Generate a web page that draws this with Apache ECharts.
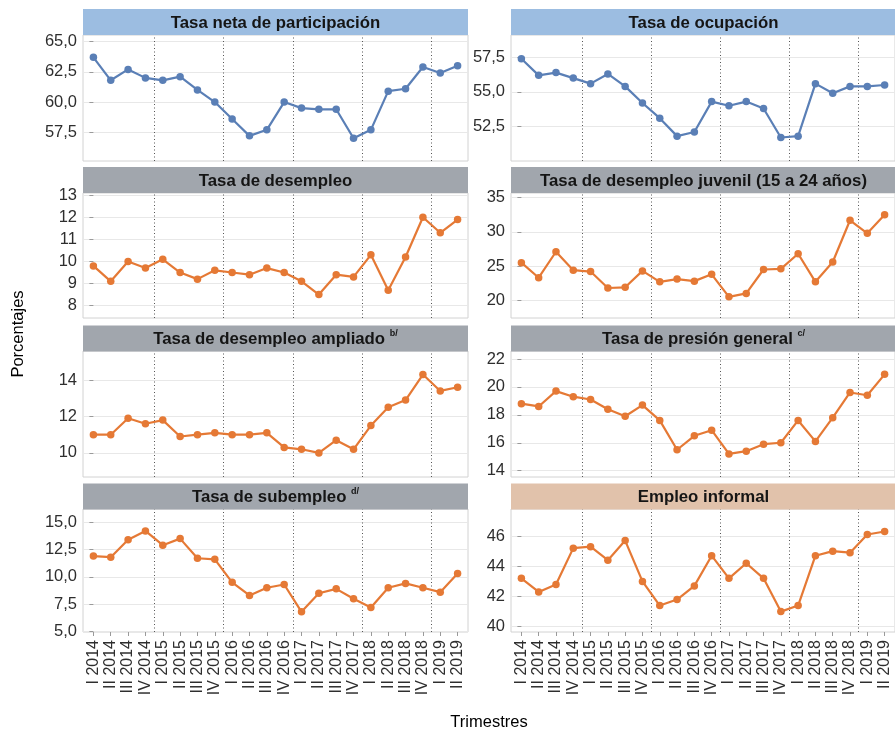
<!DOCTYPE html>
<html><head><meta charset="utf-8">
<script src="https://cdn.jsdelivr.net/npm/echarts@6/dist/echarts.min.js"></script>
<style>html,body{margin:0;padding:0;background:#fff}#c{width:895px;height:730px}</style>
</head><body><div id="c"></div>
<script>
// ---- data ----
const quarters = ['I 2014','II 2014','III 2014','IV 2014','I 2015','II 2015','III 2015','IV 2015',
  'I 2016','II 2016','III 2016','IV 2016','I 2017','II 2017','III 2017','IV 2017',
  'I 2018','II 2018','III 2018','IV 2018','I 2019','II 2019'];
const participacion = [63.7,61.8,62.7,62.0,61.8,62.1,61.0,60.0,58.6,57.2,57.7,60.0,59.5,59.4,59.4,57.0,57.7,60.9,61.1,62.9,62.4,63.0];
const ocupacion = [57.4,56.2,56.4,56.0,55.6,56.3,55.4,54.2,53.1,51.8,52.1,54.3,54.0,54.3,53.8,51.7,51.8,55.6,54.9,55.4,55.4,55.5];
const desempleo = [9.8,9.1,10.0,9.7,10.1,9.5,9.2,9.6,9.5,9.4,9.7,9.5,9.1,8.5,9.4,9.3,10.3,8.7,10.2,12.0,11.3,11.9];
const juvenil = [25.5,23.3,27.1,24.4,24.2,21.8,21.9,24.3,22.7,23.1,22.8,23.8,20.5,21.0,24.5,24.6,26.8,22.7,25.6,31.7,29.8,32.5];
const ampliado = [11.0,11.0,11.9,11.6,11.8,10.9,11.0,11.1,11.0,11.0,11.1,10.3,10.2,10.0,10.7,10.2,11.5,12.5,12.9,14.3,13.4,13.6];
const presion = [18.8,18.6,19.7,19.3,19.1,18.4,17.9,18.7,17.6,15.5,16.5,16.9,15.2,15.4,15.9,16.0,17.6,16.1,17.8,19.6,19.4,20.9];
const subempleo = [11.9,11.8,13.4,14.2,12.9,13.5,11.7,11.6,9.5,8.3,9.0,9.3,6.8,8.5,8.9,8.0,7.2,9.0,9.4,9.0,8.6,10.3];
const informal = [43.2,42.3,42.8,45.2,45.3,44.4,45.7,43.0,41.4,41.8,42.7,44.7,43.2,44.2,43.2,41.0,41.4,44.7,45.0,44.9,46.1,46.3];

const ticksParticipacion = [57.5,60,62.5,65];
const ticksOcupacion = [52.5,55,57.5];
const ticksDesempleo = [8,9,10,11,12,13];
const ticksJuvenil = [20,25,30,35];
const ticksAmpliado = [10,12,14];
const ticksPresion = [14,16,18,20,22];
const ticksSubempleo = [5,7.5,10,12.5,15];
const ticksInformal = [40,42,44,46];

const yearBreaks = [3.5,7.5,11.5,15.5,19.5];

// ---- layout / style ----
const FONT = 'Liberation Sans, Arial, Helvetica, sans-serif';
const BLUE = '#5a7fb6', ORANGE = '#e57935';
const STRIP_BLUE = '#9cbde1', STRIP_GRAY = '#a1a6ad', STRIP_TAN = '#e1c2ab';
const colLeft = [83, 511], colW = 385;
const plotTop = [35, 193, 351, 509], plotH = [126, 125, 126, 123];
const stripTop = [9, 167, 325.5, 483.5], stripH = 26;

const panels = [
  {title:'Tasa neta de participación', sup:'', data:participacion, ticks:ticksParticipacion, min:55.12, max:65.55, dec:1, color:BLUE, strip:STRIP_BLUE, r:0, c:0},
  {title:'Tasa de ocupación', sup:'', data:ocupacion, ticks:ticksOcupacion, min:50.0, max:59.12, dec:1, color:BLUE, strip:STRIP_BLUE, r:0, c:1},
  {title:'Tasa de desempleo', sup:'', data:desempleo, ticks:ticksDesempleo, min:7.44, max:13.1, dec:0, color:ORANGE, strip:STRIP_GRAY, r:1, c:0},
  {title:'Tasa de desempleo juvenil (15 a 24 años)', sup:'', data:juvenil, ticks:ticksJuvenil, min:17.41, max:35.69, dec:0, color:ORANGE, strip:STRIP_GRAY, r:1, c:1},
  {title:'Tasa de desempleo ampliado ', sup:'b/', data:ampliado, ticks:ticksAmpliado, min:8.68, max:15.59, dec:0, color:ORANGE, strip:STRIP_GRAY, r:2, c:0},
  {title:'Tasa de presión general ', sup:'c/', data:presion, ticks:ticksPresion, min:13.55, max:22.57, dec:0, color:ORANGE, strip:STRIP_GRAY, r:2, c:1},
  {title:'Tasa de subempleo ', sup:'d/', data:subempleo, ticks:ticksSubempleo, min:4.95, max:16.21, dec:1, color:ORANGE, strip:STRIP_GRAY, r:3, c:0},
  {title:'Empleo informal', sup:'', data:informal, ticks:ticksInformal, min:39.65, max:47.79, dec:0, color:ORANGE, strip:STRIP_TAN, r:3, c:1}
];

const idx = quarters.map((q,i)=>i);
const grid = [], xAxis = [], yAxis = [], series = [], graphic = [];

panels.forEach((p, i) => {
  const bottom = p.r === 3;
  grid.push({left: colLeft[p.c], top: plotTop[p.r], width: colW, height: plotH[p.r],
    show: true, borderColor: '#d2d2d2', borderWidth: 1, backgroundColor: '#fff', containLabel: false});
  xAxis.push({type: 'value', gridIndex: i, min: -0.6, max: 21.6,
    axisLine: {show: false}, splitLine: {show: false},
    axisTick: {show: bottom, customValues: idx, length: 4, lineStyle: {color: '#9a9a9a'}},
    axisLabel: {show: bottom, customValues: idx, rotate: 90, margin: 8,
      formatter: v => quarters[Math.round(v)] || '', color: '#2e2e2e', fontSize: 16, fontFamily: FONT}});
  yAxis.push({type: 'value', gridIndex: i, min: p.min, max: p.max,
    axisLine: {show: false},
    axisTick: {show: true, customValues: p.ticks, length: 4, lineStyle: {color: '#9a9a9a'}},
    axisLabel: {customValues: p.ticks, margin: 6, color: '#2e2e2e', fontSize: 16.5, fontFamily: FONT,
      formatter: v => p.dec ? v.toFixed(1).replace('.', ',') : String(Math.round(v))},
    splitLine: {show: true, lineStyle: {color: '#e8e8e8', width: 1}}});
  series.push({type: 'line', xAxisIndex: i, yAxisIndex: i,
    data: p.data.map((v, k) => [k, v]),
    symbol: 'circle', symbolSize: 7.5, showSymbol: true,
    lineStyle: {color: p.color, width: 2.2}, itemStyle: {color: p.color},
    emphasis: {disabled: true}, silent: true, z: 3,
    markLine: {silent: true, symbol: 'none', label: {show: false}, z: 1,
      lineStyle: {color: '#555', type: [1, 2.5], width: 1},
      data: yearBreaks.map(x => ({xAxis: x}))}});
  graphic.push({type: 'rect', left: colLeft[p.c], top: stripTop[p.r],
    shape: {width: colW, height: stripH}, style: {fill: p.strip}, z: 10});
  graphic.push({type: 'text', x: colLeft[p.c] + colW / 2, y: stripTop[p.r] + stripH / 2 + 1, z: 11,
    style: {text: p.title + (p.sup ? '{sup|' + p.sup + '}' : ''), align: 'center', verticalAlign: 'middle',
      font: 'bold 16.8px ' + FONT, fill: '#151515',
      rich: {sup: {fontSize: 9, fontWeight: 'bold', fontFamily: FONT, fill: '#151515', verticalAlign: 'top', lineHeight: 20, padding: [0, 0, 6, 0]}}}});
});

graphic.push({type: 'text', x: 18, y: 334, rotation: Math.PI / 2, z: 11,
  style: {text: 'Porcentajes', align: 'center', verticalAlign: 'middle', font: '16.5px ' + FONT, fill: '#000'}});
graphic.push({type: 'text', x: 489, y: 722, z: 11,
  style: {text: 'Trimestres', align: 'center', verticalAlign: 'middle', font: '16.5px ' + FONT, fill: '#000'}});

const chart = echarts.init(document.getElementById('c'), null, {renderer: 'canvas'});
chart.setOption({animation: false, backgroundColor: '#fff', grid, xAxis, yAxis, series, graphic});
</script></body></html>
